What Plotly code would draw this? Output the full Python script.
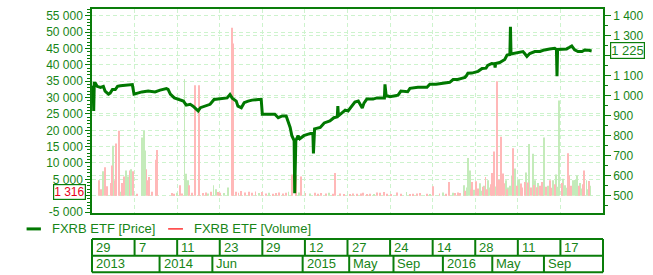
import plotly.graph_objects as go

# ---------------- data (x = trading-session index) ----------------
price_idx = [0, 2, 3, 4, 6, 9, 15, 20, 23, 29, 32, 36, 41, 45, 50, 59, 71, 74, 80, 88, 99, 111, 120, 131, 134,
             138, 145, 152, 161, 166, 173, 178, 184, 187, 191, 200, 208, 215, 229, 238, 243, 247, 254, 257, 263,
             268, 275, 282, 293, 298, 300, 305, 322, 328, 335, 342, 345, 349, 352, 355, 356, 357, 359, 363, 366,
             373, 384, 387, 389, 390, 392, 402, 409, 419, 426, 432, 433, 434, 440, 446, 451, 458, 463, 469, 474,
             476, 479, 484, 495, 502, 512, 515, 516, 518, 525, 534, 539, 544, 556, 560, 574, 590, 595, 606, 613,
             620, 630, 636, 644, 651, 657, 660, 662, 669, 680, 687, 694, 697, 701, 704, 709, 710, 711, 718, 727,
             731, 736, 737, 738, 745, 754, 759, 762, 766, 771, 780, 789, 797, 806, 815, 818, 819, 820, 827, 836,
             841, 845, 850, 856, 863, 868, 875, 880]
price_val = [1043, 1045, 925, 1063, 1063, 1048, 1043, 1048, 1024, 1009, 1014, 1032, 1032, 1048, 1051, 1052, 1057,
             1009, 1015, 1020, 1024, 1020, 1029, 1037, 1033, 1009, 990, 984, 974, 954, 958, 949, 933, 925, 941,
             949, 958, 982, 989, 990, 1007, 989, 974, 949, 941, 966, 974, 979, 982, 982, 908, 908, 908, 891, 900,
             900, 875, 842, 801, 776, 776, 513, 776, 801, 786, 801, 811, 816, 816, 712, 835, 842, 865, 875, 891,
             895, 949, 900, 915, 929, 925, 954, 969, 974, 949, 939, 964, 984, 984, 990, 990, 990, 1058, 1002, 996,
             999, 1004, 1024, 1021, 1038, 1043, 1043, 1058, 1058, 1060, 1065, 1068, 1082, 1082, 1088, 1093, 1103,
             1113, 1114, 1123, 1137, 1139, 1152, 1160, 1162, 1160, 1142, 1162, 1167, 1182, 1204, 1207, 1346, 1210,
             1213, 1217, 1222, 1212, 1197, 1212, 1222, 1222, 1230, 1235, 1238, 1232, 1098, 1232, 1232, 1235, 1243,
             1250, 1230, 1222, 1222, 1230, 1228, 1225]

vol_idx = [13, 16, 20, 23, 26, 33, 36, 37, 41, 43, 47, 50, 53, 56, 60, 63, 66, 69, 72, 80, 88, 91, 93, 96, 98,
           101, 105, 112, 114, 141, 145, 150, 155, 158, 163, 166, 169, 171, 176, 182, 188, 196, 200, 205, 210,
           214, 218, 222, 226, 232, 239, 246, 249, 253, 258, 263, 270, 276, 282, 288, 294, 300, 306, 312, 318,
           324, 330, 336, 342, 346, 352, 360, 364, 368, 376, 384, 392, 398, 404, 412, 418, 424, 428, 436, 444,
           454, 460, 466, 474, 477, 484, 490, 496, 502, 507, 514, 520, 526, 537, 544, 554, 560, 566, 572, 578,
           590, 596, 601, 612, 618, 624, 629, 636, 639, 644, 648, 655, 657, 660, 663, 666, 668, 670, 673, 677,
           680, 683, 686, 688, 690, 693, 695, 698, 700, 702, 705, 708, 711, 714, 717, 719, 721, 724, 726, 729,
           731, 733, 736, 739, 742, 745, 748, 750, 752, 756, 758, 762, 765, 768, 770, 773, 776, 778, 780, 783,
           786, 789, 792, 794, 796, 800, 803, 806, 809, 812, 815, 818, 821, 823, 827, 830, 833, 836, 838, 841,
           844, 847, 850, 854, 857, 860, 863, 865, 867, 871, 873, 875, 878, 880]
vol_val = [4700, 2000, 7500, 8700, 2900, 3900, 9200, 15300, 4700, 16000, 19900, 1200, 3900, 5900, 7700, 5900,
           7700, 8100, 7500, 600, 17800, 19800, 13800, 8100, 4700, 5700, 1200, 11000, 14000, 800, 600, 900, 3200,
           700, 35700, 6700, 4700, 3200, 900, 33800, 33800, 800, 1000, 700, 1200, 3200, 2000, 1100, 900, 800,
           2500, 51400, 46600, 1200, 900, 1400, 1000, 1200, 900, 1300, 800, 1100, 700, 900, 600, 800, 1000, 700,
           900, 1200, 6500, 6200, 1000, 5900, 800, 700, 900, 600, 800, 700, 900, 600, 6900, 700, 500, 400, 700,
           600, 700, 900, 500, 600, 500, 1000, 900, 1100, 600, 500, 1000, 600, 1100, 500, 600, 700, 850, 600, 500,
           2900, 700, 1000, 600, 4200, 900, 850, 1000, 850, 3200, 1500, 2500, 11500, 7700, 2000, 4200, 1800, 4400,
           2200, 3800, 1500, 2700, 3000, 5700, 2000, 4700, 2500, 3500, 6900, 13500, 2800, 35000, 4900, 3000, 18000,
           6800, 3800, 4700, 2000, 2500, 3000, 6200, 14500, 8300, 3000, 4700, 5000, 3700, 2500, 4200, 7100, 4000,
           15800, 2500, 12800, 3300, 4700, 2600, 3900, 3000, 4200, 2200, 17800, 2700, 3000, 4700, 2400, 4700, 3500,
           6500, 2700, 29100, 3900, 5200, 3200, 2400, 13000, 6200, 3000, 4700, 4800, 6200, 3000, 3900, 2200, 3500,
           7700, 4700, 2000, 4500, 3000, 1316]
vol_dir = ['d', 'd', 'u', 'd', 'd', 'd', 'd', 'u', 'd', 'd', 'd', 'u', 'd', 'd', 'u', 'u', 'd', 'u', 'd', 'd',
           'u', 'u', 'u', 'd', 'd', 'd', 'd', 'd', 'd', 'd', 'd', 'u', 'd', 'd', 'u', 'u', 'u', 'd', 'd', 'd',
           'd', 'd', 'd', 'u', 'd', 'u', 'u', 'd', 'd', 'u', 'u', 'd', 'd', 'd', 'd', 'd', 'd', 'd', 'd', 'd',
           'u', 'd', 'd', 'u', 'd', 'd', 'd', 'd', 'd', 'u', 'd', 'd', 'u', 'd', 'd', 'u', 'd', 'd', 'd', 'd',
           'u', 'd', 'd', 'd', 'd', 'd', 'd', 'd', 'd', 'd', 'd', 'd', 'u', 'd', 'd', 'd', 'd', 'd', 'd', 'd',
           'u', 'd', 'd', 'd', 'd', 'd', 'u', 'd', 'd', 'u', 'd', 'd', 'u', 'd', 'd', 'd', 'u', 'd', 'u', 'u',
           'u', 'd', 'd', 'u', 'd', 'd', 'u', 'u', 'd', 'u', 'd', 'd', 'u', 'u', 'd', 'd', 'd', 'u', 'd', 'd',
           'u', 'd', 'd', 'd', 'u', 'd', 'u', 'u', 'u', 'd', 'u', 'd', 'u', 'u', 'd', 'd', 'd', 'u', 'd', 'u',
           'd', 'u', 'd', 'u', 'd', 'u', 'd', 'd', 'u', 'u', 'd', 'u', 'd', 'd', 'u', 'd', 'u', 'u', 'u', 'd',
           'u', 'u', 'u', 'd', 'd', 'd', 'u', 'u', 'u', 'd', 'u', 'u', 'd', 'd', 'u', 'u', 'd', 'u']

n_sessions = 900
day_tick_idx = [0, 75, 150, 225, 300, 375, 450, 525, 600, 675, 750, 825]
day_tick_labels = ["29", "7", "11", "23", "29", "12", "27", "24", "14", "28", "11", "17"]
period_idx = [0, 119, 212, 371, 453, 531, 618, 705, 796]
period_labels = ["2013", "2014", "Jun", "2015", "May", "Sep", "2016", "May", "Sep"]

vol_ticks = [-5000, 0, 5000, 10000, 15000, 20000, 25000, 30000, 35000, 40000, 45000, 50000, 55000]
price_ticks = [500, 600, 700, 800, 900, 1000, 1100, 1200, 1300, 1400]
series_names = ["FXRB ETF [Price]", "FXRB ETF [Volume]"]


def fmt(v):
    return f"{v:,}".replace(",", " ")


# ---------------- styles ----------------
GREEN = "#0A7D0A"
TXT = "#178517"
GRID = "#CDF3CD"
FONT = "Liberation Sans, Arial, sans-serif"
PINK = "#FFB8B8"
LGREEN = "#C4EBBA"

fig = go.Figure()
up_x = [i for i, d in zip(vol_idx, vol_dir) if d == 'u']
up_y = [v for v, d in zip(vol_val, vol_dir) if d == 'u']
dn_x = [i for i, d in zip(vol_idx, vol_dir) if d == 'd']
dn_y = [v for v, d in zip(vol_val, vol_dir) if d == 'd']
fig.add_trace(go.Bar(x=up_x, y=up_y, width=1.6, marker=dict(color=LGREEN, line=dict(width=0)),
                     yaxis="y", showlegend=False))
fig.add_trace(go.Bar(x=dn_x, y=dn_y, width=1.6, marker=dict(color=PINK, line=dict(width=0)),
                     yaxis="y", showlegend=False))
fig.add_trace(go.Scatter(x=price_idx, y=price_val, mode="lines", line=dict(color="#007800", width=3),
                         yaxis="y2", showlegend=False))

axis_common = dict(showline=True, linecolor=GREEN, linewidth=1.5, zeroline=False,
                   tickfont=dict(family=FONT, size=12, color=TXT), tickcolor=GREEN,
                   gridcolor=GRID, griddash="4px,3px", gridwidth=1)

# labels hidden behind the last-value boxes (as in the reference)
last_vol = vol_val[-1]
last_price = price_val[-1]
vol_ticktext = ["" if v == 0 else fmt(v) for v in vol_ticks]
price_ticktext = ["" if v == 1200 else fmt(v) for v in price_ticks]

fig.update_layout(
    width=653, height=275, autosize=False,
    margin=dict(l=92, r=50, t=7, b=62, pad=0),
    paper_bgcolor="white", plot_bgcolor="white",
    barmode="overlay", showlegend=False,
    font=dict(family=FONT, size=12, color=TXT),
    xaxis=dict(range=[0, n_sessions], tickmode="array", tickvals=day_tick_idx[1:],
               showticklabels=False, ticks="", showgrid=True, mirror=True,
               **axis_common),
    yaxis=dict(range=[-5303, 57121], tickmode="array", tickvals=vol_ticks,
               ticktext=vol_ticktext, ticks="outside", ticklen=5, tickwidth=1,
               minor=dict(dtick=1000, tick0=0, ticks="outside", ticklen=3, tickcolor=GREEN, showgrid=False),
               showgrid=True, **axis_common),
    yaxis2=dict(range=[414.4, 1434.7], overlaying="y", side="right", tickmode="array",
                tickvals=price_ticks, ticktext=price_ticktext, ticks="outside",
                ticklen=6, tickwidth=1,
                minor=dict(dtick=50, tick0=0, ticks="outside", ticklen=3, tickcolor=GREEN, showgrid=False),
                showgrid=True, **axis_common),
)

shapes = []
annotations = []

# date table below the plot (paper y: 0 = plot bottom)
y_top, y_mid, y_bot = -0.128, -0.209, -0.290
lw = 2
for y in (y_top, y_mid, y_bot):
    shapes.append(dict(type="line", xref="paper", yref="paper", x0=0, x1=1, y0=y, y1=y,
                       line=dict(color=GREEN, width=lw)))
for x in (0, 1):
    shapes.append(dict(type="line", xref="paper", yref="paper", x0=x, x1=x, y0=y_top, y1=y_bot,
                       line=dict(color=GREEN, width=lw)))
for i, lab in zip(day_tick_idx, day_tick_labels):
    if i > 0:
        shapes.append(dict(type="line", xref="paper", yref="paper", x0=i / n_sessions, x1=i / n_sessions,
                           y0=y_top, y1=y_mid, line=dict(color=GREEN, width=lw)))
    annotations.append(dict(x=i, xref="x", y=(y_top + y_mid) / 2, yref="paper", text=lab,
                            showarrow=False, xanchor="left", yanchor="middle", xshift=2,
                            font=dict(family=FONT, size=13, color=TXT)))
for i, lab in zip(period_idx, period_labels):
    if i > 0:
        shapes.append(dict(type="line", xref="paper", yref="paper", x0=i / n_sessions, x1=i / n_sessions,
                           y0=y_mid, y1=y_bot, line=dict(color=GREEN, width=lw)))
    annotations.append(dict(x=i, xref="x", y=(y_mid + y_bot) / 2, yref="paper", text=lab,
                            showarrow=False, xanchor="left", yanchor="middle", xshift=2,
                            font=dict(family=FONT, size=13, color=TXT)))

# legend (manual)
leg_y = -0.078
shapes.append(dict(type="line", xref="paper", yref="paper", x0=-0.128, x1=-0.1, y0=leg_y, y1=leg_y,
                   line=dict(color="#007800", width=3)))
shapes.append(dict(type="line", xref="paper", yref="paper", x0=0.149, x1=0.178, y0=leg_y, y1=leg_y,
                   line=dict(color="#FF0000", width=1.2)))
annotations.append(dict(x=-0.083, xref="paper", y=leg_y, yref="paper", text=series_names[0], showarrow=False,
                        xanchor="left", yanchor="middle", font=dict(family=FONT, size=13, color=TXT)))
annotations.append(dict(x=0.196, xref="paper", y=leg_y, yref="paper", text=series_names[1], showarrow=False,
                        xanchor="left", yanchor="middle", font=dict(family=FONT, size=13, color=TXT)))

# last-value boxes
annotations.append(dict(x=-0.0115, xref="paper", y=last_vol, yref="y", text=fmt(last_vol),
                        showarrow=False, xanchor="right", yanchor="middle", bgcolor="white",
                        bordercolor=GREEN, borderwidth=1.2, borderpad=0, yshift=-1,
                        font=dict(family=FONT, size=12, color="#E8001C")))
annotations.append(dict(x=1.0145, xref="paper", y=last_price, yref="y2", text=fmt(last_price),
                        showarrow=False, xanchor="left", yanchor="middle", bgcolor="white",
                        bordercolor=GREEN, borderwidth=1.2, borderpad=0,
                        font=dict(family=FONT, size=13, color=TXT)))

fig.update_layout(shapes=shapes, annotations=annotations)
fig.write_html("out.html")
